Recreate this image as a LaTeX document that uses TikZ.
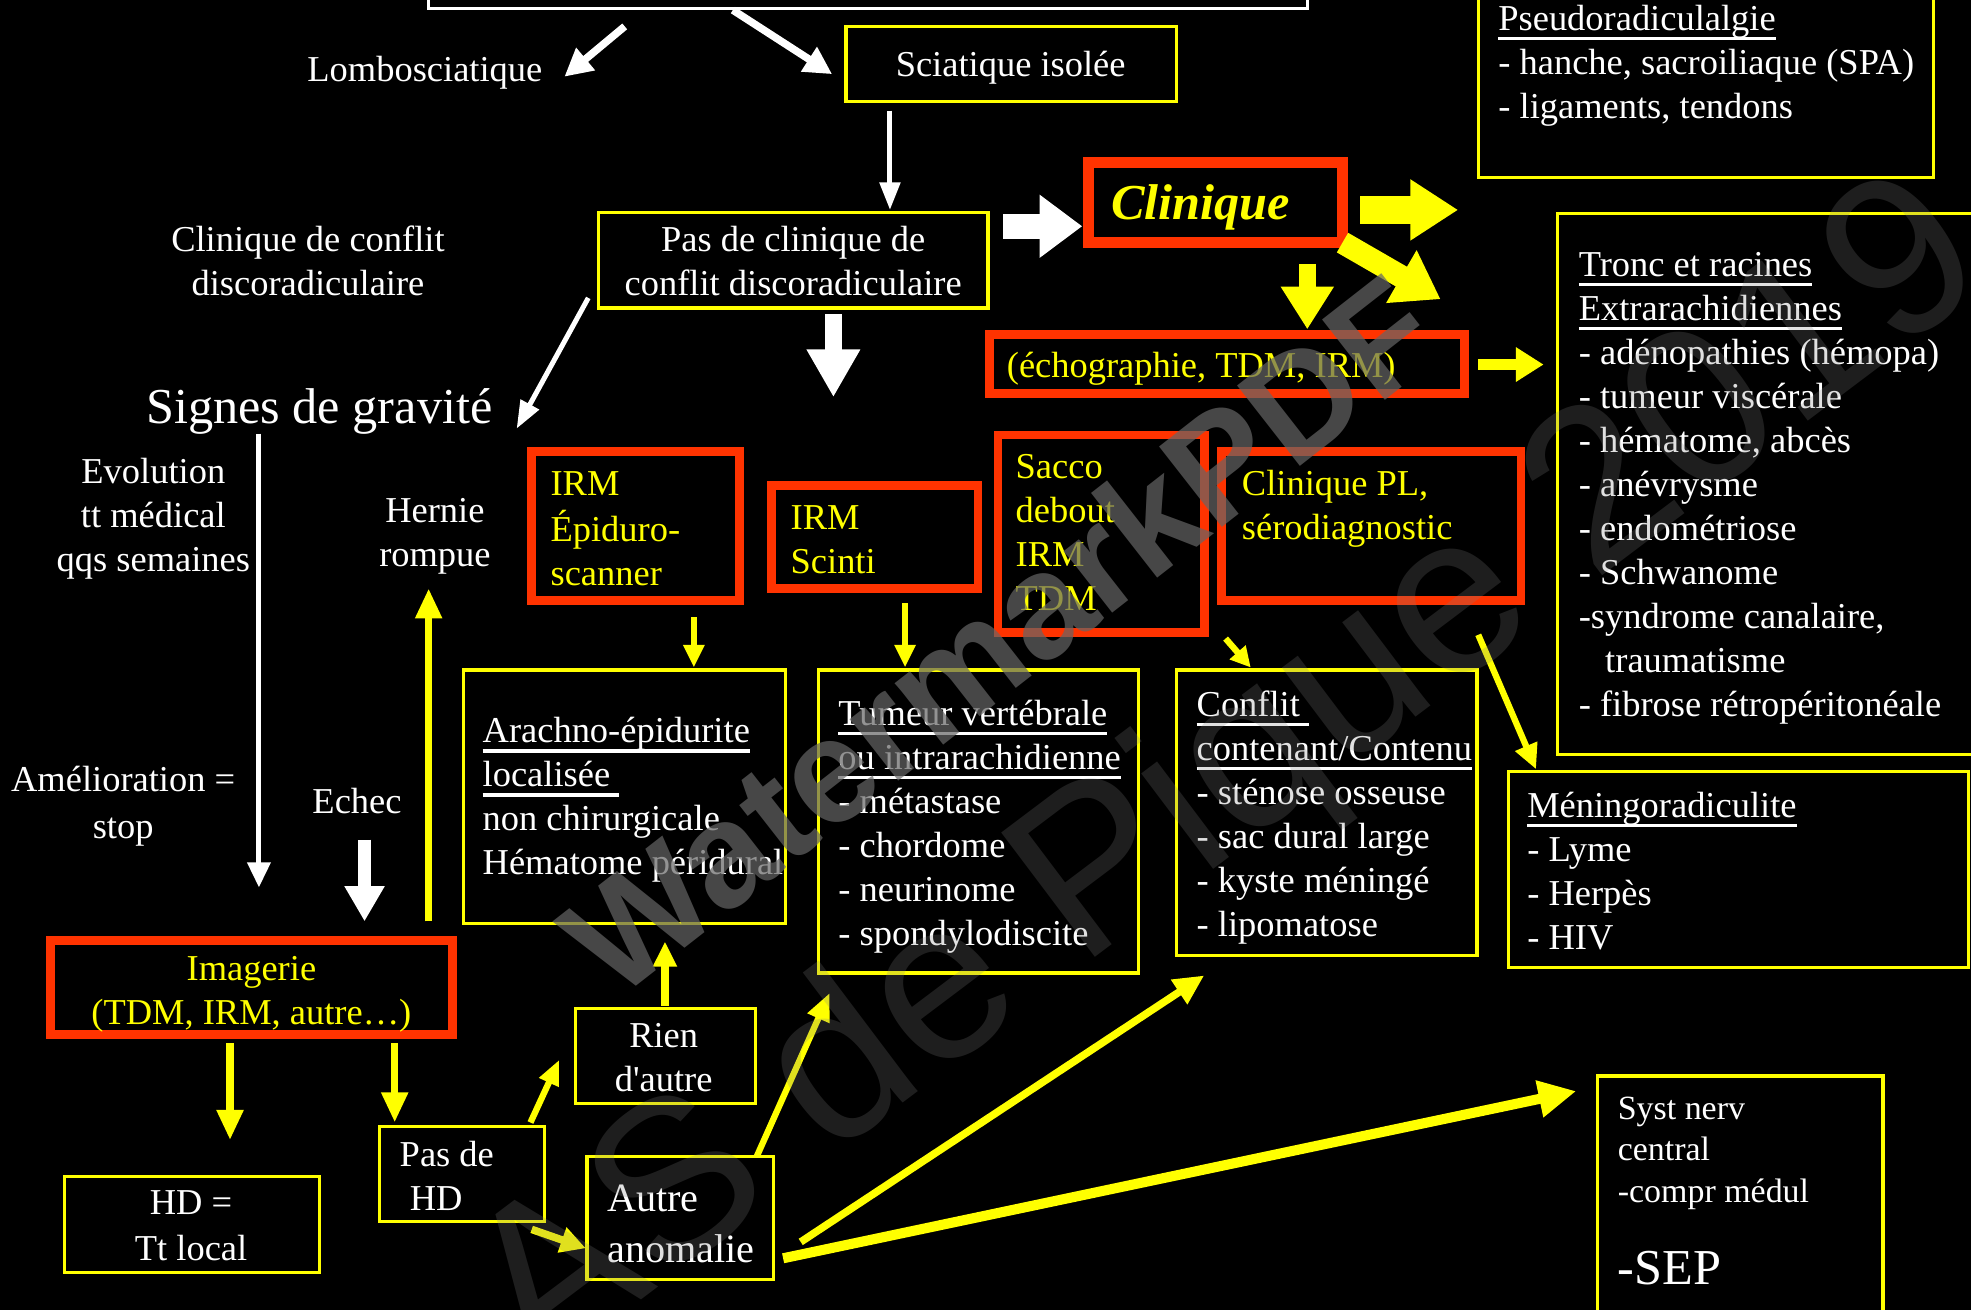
\documentclass[tikz,border=0pt]{standalone}
\usepackage{fontspec}
\setmainfont{Liberation Serif}
\newfontfamily\wmfont{Liberation Sans}
\usetikzlibrary{arrows.meta}
\definecolor{yel}{HTML}{FFFF00}
\definecolor{redb}{HTML}{FF3300}
\newcommand\fsN{\fontsize{29}{35}\selectfont}
\newcommand\fsB{\fontsize{40}{48}\selectfont}
\newcommand\fsM{\fontsize{32}{40}\selectfont}
\newcommand\fsS{\fontsize{27}{33}\selectfont}
\newcommand\uln[1]{\setbox0\hbox{#1}\rlap{\rule[-0.27em]{\wd0}{0.09em}}\box0}
\newcommand\bx[6]{\node[#6, minimum width={(#4)-(#2)}, minimum height={(#5)-(#3)}] (#1) at ({((#2)+(#4))/2},{((#3)+(#5))/2}) {};}
\begin{document}
\begin{tikzpicture}[x=1pt,y=-1pt,
  ybox/.style={draw=yel, line width=2.5pt, inner sep=0pt, outer sep=0pt},
  wbox/.style={draw=white, line width=2.5pt, inner sep=0pt, outer sep=0pt},
  rbox/.style={draw=redb, line width=7pt, inner sep=0pt, outer sep=0pt},
  rboxb/.style={draw=redb, line width=9pt, inner sep=0pt, outer sep=0pt},
  txt/.style={inner sep=0pt, outer sep=0pt, text=white, font=\fsN, align=left, anchor=north west},
  ctxt/.style={inner sep=0pt, outer sep=0pt, text=white, font=\fsN, align=center, anchor=north},
  arr/.style n args={4}{draw=#1, line width=#2, line cap=butt, -{Triangle[length=#3,width=#4]}}
]
\fill[black] (0,0) rectangle (1568,1042);
\useasboundingbox (0,0) rectangle (1568,1042);

% ---------- boxes ----------
\bx{top}{341}{-20}{1040}{7}{wbox}
\bx{sciat}{673}{21}{936}{81}{ybox}
\bx{pasclin}{476}{169}{786}{245}{ybox}
\bx{clin}{866}{129}{1068}{193}{rboxb}
\bx{echo}{787}{266}{1165}{313}{rbox}
\bx{pseudo}{1176}{-10}{1538}{141}{ybox}
\bx{tronc}{1239}{170}{1585}{600}{ybox}
\bx{irmepi}{423}{359}{588}{478}{rbox}
\bx{irmsci}{614}{386}{778}{468}{rbox}
\bx{sacco}{794}{346}{958}{503}{rbox}
\bx{clinpl}{972}{359}{1210}{478}{rbox}
\bx{arachno}{369}{533}{625}{735}{ybox}
\bx{tumeur}{651}{533}{906}{774}{ybox}
\bx{conflit}{936}{533}{1175}{760}{ybox}
\bx{meningo}{1200}{614}{1566}{770}{ybox}
\bx{imag}{40}{748}{360}{823}{rbox}
\bx{hd}{51}{936}{254}{1012}{ybox}
\bx{pashd}{302}{896}{433}{972}{ybox}
\bx{rien}{458}{802}{601}{878}{ybox}
\bx{autre}{467}{920}{615}{1018}{ybox}
\bx{syst}{1271}{856}{1498}{1060}{ybox}

% ---------- texts ----------
\node[ctxt] (tlombo) at (338,40.5) {\strut Lombosciatique};
\node[ctxt] (tsciat) at (804,36.5) {\strut Sciatique isolée};
\node[ctxt] (tpasclin) at (631,175.5) {\strut Pas de clinique de\\conflit discoradiculaire};
\node[ctxt] (tclinconf) at (245,175.5) {\strut Clinique de conflit\\discoradiculaire};
\node[ctxt, text=yel, font=\fsB\bfseries\itshape] (tclin) at (955,141.4) {\strut Clinique};
\node[txt, text=yel] (techo) at (801,275.5) {\strut (échographie, TDM, IRM)};
\node[txt] (tpseudo) at (1192,-0.5) {\strut\uln{Pseudoradiculalgie}\\- hanche, sacroiliaque (SPA)\\- ligaments, tendons};
\node[txt] (ttronc) at (1256,195.5) {\strut\uln{Tronc et racines}\\\uln{Extrarachidiennes}\\- adénopathies (hémopa)\\- tumeur viscérale\\- hématome, abcès\\- anévrysme\\- endométriose\\- Schwanome\\-syndrome canalaire,\\\hspace*{21pt}traumatisme\\- fibrose rétropéritonéale};
\node[ctxt, font=\fsB] (tsignes) at (254,303.4) {\strut Signes de gravité};
\node[ctxt] (tevol) at (122,360.5) {\strut Evolution\\tt médical\\qqs semaines};
\node[ctxt] (thernie) at (346,391.5) {\strut Hernie\\rompue};
\node[txt, text=yel] (tirmepi) at (438,369.5) {\strut IRM\\Épiduro-\\scanner};
\node[txt, text=yel] (tirmsci) at (629,396.5) {\strut IRM\\Scinti};
\node[txt, text=yel] (tsacco) at (808,356.5) {\strut Sacco\\debout\\IRM\\TDM};
\node[txt, text=yel] (tclinpl) at (988,369.5) {\strut Clinique PL,\\sérodiagnostic};
\node[txt] (tarachno) at (384,566.5) {\strut\uln{Arachno-épidurite}\\\uln{localisée\ }\\non chirurgicale\\Hématome péridural};
\node[txt] (ttumeur) at (667,552.5) {\strut\uln{Tumeur vertébrale}\\\uln{ou intrarachidienne}\\- métastase\\- chordome\\- neurinome\\- spondylodiscite};
\node[txt] (tconflit) at (952,545.5) {\strut\uln{Conflit\ }\\\uln{contenant/Contenu}\\- sténose osseuse\\- sac dural large\\- kyste méningé\\- lipomatose};
\node[txt] (tmeningo) at (1215,625.5) {\strut\uln{Méningoradiculite}\\- Lyme\\- Herpès\\- HIV};
\node[ctxt, font=\fontsize{29}{37}\selectfont] (tamelio) at (98,604.1) {\strut Amélioration =\\stop};
\node[ctxt] (techec) at (284,622.5) {\strut Echec};
\node[ctxt, text=yel] (timag) at (200,755.5) {\strut Imagerie\\(TDM, IRM, autre…)};
\node[ctxt, font=\fontsize{29}{37}\selectfont] (thd) at (152,940.1) {\strut HD =\\Tt local};
\node[txt] (tpashd) at (318,903.5) {\strut Pas de\\\hspace*{8pt}HD};
\node[ctxt] (trien) at (528,808.5) {\strut Rien\\d\textquotesingle autre};
\node[txt, font=\fsM] (tautre) at (483,936) {\strut Autre\\anomalie};
\node[txt, font=\fsS] (tsyst) at (1287,867.4) {\strut Syst nerv\\central\\-compr médul};
\node[txt, font=\fsB] (tsep) at (1287,988.4) {\strut -SEP};

% ---------- connector end points ----------
\coordinate (a1s) at (497,21);   \coordinate (a1e) at (449,61);
\coordinate (a2s) at (583,8);    \coordinate (a2e) at (662,59);
\coordinate (a3s) at (708,88);   \coordinate (a3e) at (708,167);
\coordinate (a4s) at (468,237);  \coordinate (a4e) at (411,341);
\coordinate (a5s) at (663,250);  \coordinate (a5e) at (663,316);
\coordinate (a6s) at (798,180);  \coordinate (a6e) at (861,180);
\coordinate (a7s) at (1082,167); \coordinate (a7e) at (1160,167);
\coordinate (a8s) at (1068,193); \coordinate (a8e) at (1146,238);
\coordinate (a9s) at (1040,210); \coordinate (a9e) at (1040,262);
\coordinate (a10s) at (1176,290); \coordinate (a10e) at (1228,290);
\coordinate (a11s) at (206,345); \coordinate (a11e) at (206,706);
\coordinate (a12s) at (341,733); \coordinate (a12e) at (341,468);
\coordinate (a13s) at (290,668); \coordinate (a13e) at (290,733);
\coordinate (a14s) at (552,491); \coordinate (a14e) at (552,531);
\coordinate (a15s) at (720,480); \coordinate (a15e) at (720,531);
\coordinate (a16s) at (975,508); \coordinate (a16e) at (995,531);
\coordinate (a17s) at (1176,505); \coordinate (a17e) at (1222,612);
\coordinate (a18s) at (183,830); \coordinate (a18e) at (183,907);
\coordinate (a19s) at (314,830); \coordinate (a19e) at (314,893);
\coordinate (a20s) at (422,893); \coordinate (a20e) at (445,843);
\coordinate (a21s) at (529,800); \coordinate (a21e) at (529,749);
\coordinate (a22s) at (423,978); \coordinate (a22e) at (466,993);
\coordinate (a23s) at (602,920); \coordinate (a23e) at (660,790);
\coordinate (a24s) at (637,988); \coordinate (a24e) at (958,776);
\coordinate (a25s) at (623,1001); \coordinate (a25e) at (1254,868);

% ---------- connectors ----------
\draw[arr={white}{6pt}{22pt}{22pt}] (a1s) -- (a1e);
\draw[arr={white}{6pt}{22pt}{22pt}] (a2s) -- (a2e);
\draw[arr={white}{4pt}{22pt}{16pt}] (a3s) -- (a3e);
\draw[arr={white}{4pt}{22pt}{16pt}] (a4s) -- (a4e);
\draw[arr={white}{13pt}{38pt}{40pt}] (a5s) -- (a5e);
\draw[arr={white}{20pt}{34pt}{48pt}] (a6s) -- (a6e);
\draw[arr={yel}{22pt}{38pt}{46pt}] (a7s) -- (a7e);
\draw[arr={yel}{18pt}{36pt}{46pt}] (a8s) -- (a8e);
\draw[arr={yel}{14pt}{34pt}{40pt}] (a9s) -- (a9e);
\draw[arr={yel}{9pt}{22pt}{26pt}] (a10s) -- (a10e);
\draw[arr={white}{4pt}{20pt}{18pt}] (a11s) -- (a11e);
\draw[arr={yel}{6pt}{24pt}{20pt}] (a12s) -- (a12e);
\draw[arr={white}{10pt}{28pt}{30pt}] (a13s) -- (a13e);
\draw[arr={yel}{5pt}{18pt}{16pt}] (a14s) -- (a14e);
\draw[arr={yel}{5pt}{18pt}{16pt}] (a15s) -- (a15e);
\draw[arr={yel}{5pt}{16pt}{16pt}] (a16s) -- (a16e);
\draw[arr={yel}{5pt}{20pt}{18pt}] (a17s) -- (a17e);
\draw[arr={yel}{6pt}{24pt}{20pt}] (a18s) -- (a18e);
\draw[arr={yel}{6pt}{24pt}{20pt}] (a19s) -- (a19e);
\draw[arr={yel}{5pt}{20pt}{16pt}] (a20s) -- (a20e);
\draw[arr={yel}{6pt}{20pt}{18pt}] (a21s) -- (a21e);
\draw[arr={yel}{6pt}{20pt}{20pt}] (a22s) -- (a22e);
\draw[arr={yel}{5pt}{22pt}{18pt}] (a23s) -- (a23e);
\draw[arr={yel}{6pt}{24pt}{22pt}] (a24s) -- (a24e);
\draw[arr={yel}{8pt}{30pt}{28pt}] (a25s) -- (a25e);

% ---------- watermarks ----------
\node[inner sep=0pt, rotate=37, text=gray, text opacity=0.24, font=\wmfont\fontsize{180}{200}\selectfont] (wm2) at (980,622) {AS de Pique 2019};
\node[inner sep=0pt, rotate=38, text=gray!120, text opacity=0.7, font=\wmfont\bfseries\fontsize{118}{130}\selectfont] (wm1) at (795,505) {WatermarkPDF};
\end{tikzpicture}
\end{document}
